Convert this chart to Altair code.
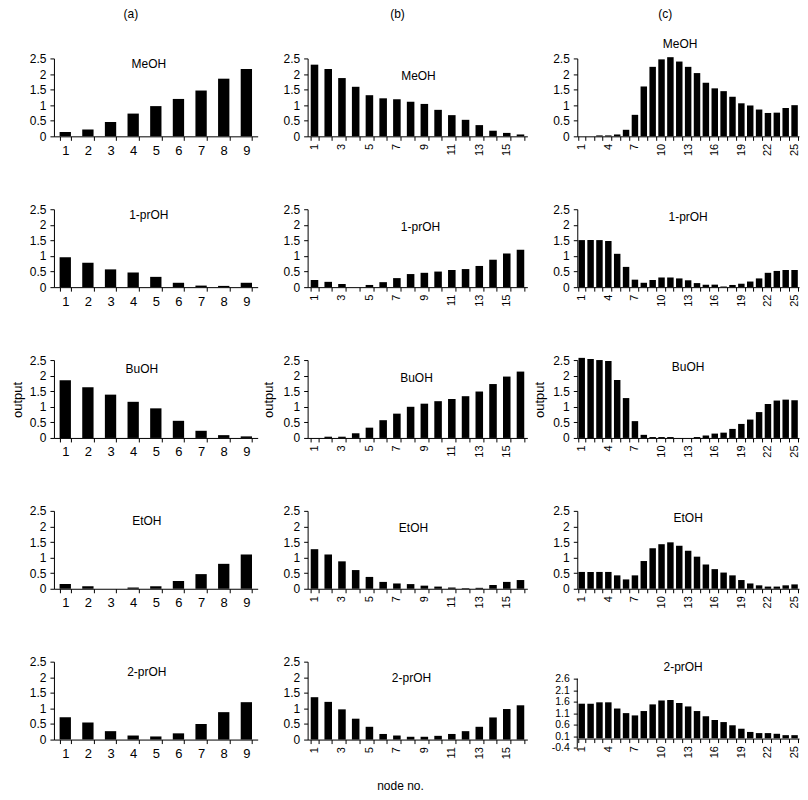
import altair as alt
import pandas as pd

FONT = "Liberation Sans"

nodes_a = list(range(1, 10))
nodes_b = list(range(1, 17))
nodes_c = list(range(1, 26))

solvents = ["MeOH", "1-prOH", "BuOH", "EtOH", "2-prOH"]
column_titles = ["(a)", "(b)", "(c)"]

# column (a): 9 nodes
a_MeOH = [0.14, 0.22, 0.46, 0.73, 0.97, 1.2, 1.47, 1.85, 2.16]
a_1prOH = [0.96, 0.78, 0.57, 0.47, 0.33, 0.14, 0.05, 0.04, 0.14]
a_BuOH = [1.85, 1.63, 1.39, 1.16, 0.95, 0.55, 0.23, 0.09, 0.05]
a_EtOH = [0.15, 0.08, 0.0, 0.04, 0.08, 0.25, 0.47, 0.8, 1.1]
a_2prOH = [0.72, 0.55, 0.27, 0.13, 0.1, 0.2, 0.5, 0.88, 1.2]

# column (b): 16 nodes
b_MeOH = [2.30, 2.16, 1.87, 1.59, 1.32, 1.22, 1.19, 1.11, 1.04, 0.85, 0.68, 0.53, 0.36, 0.18, 0.11, 0.06]
b_1prOH = [0.23, 0.17, 0.10, 0.0, 0.07, 0.16, 0.29, 0.42, 0.46, 0.5, 0.55, 0.58, 0.68, 0.88, 1.08, 1.2]
b_BuOH = [0.0, 0.04, 0.04, 0.15, 0.33, 0.57, 0.78, 1.0, 1.1, 1.18, 1.25, 1.34, 1.49, 1.73, 1.97, 2.13]
b_EtOH = [1.27, 1.1, 0.88, 0.6, 0.38, 0.22, 0.17, 0.15, 0.1, 0.07, 0.04, 0.02, 0.03, 0.12, 0.22, 0.28]
b_2prOH = [1.36, 1.21, 0.97, 0.67, 0.41, 0.18, 0.13, 0.09, 0.09, 0.12, 0.18, 0.27, 0.41, 0.71, 0.98, 1.1]

# column (c): 25 nodes
c_MeOH = [0.0, 0.0, 0.03, 0.03, 0.06, 0.21, 0.69, 1.6, 2.23, 2.47, 2.54, 2.4, 2.23, 2.03, 1.72,
          1.54, 1.45, 1.27, 1.06, 0.99, 0.86, 0.75, 0.76, 0.91, 1.0]
c_1prOH = [1.51, 1.51, 1.51, 1.48, 1.07, 0.65, 0.24, 0.14, 0.23, 0.31, 0.31, 0.28, 0.22, 0.13, 0.08,
           0.08, 0.02, 0.07, 0.11, 0.18, 0.28, 0.46, 0.52, 0.55, 0.55]
c_BuOH = [2.57, 2.53, 2.5, 2.47, 1.86, 1.28, 0.54, 0.1, 0.03, 0.03, 0.03, 0.0, 0.0, 0.03, 0.08,
          0.14, 0.17, 0.29, 0.45, 0.59, 0.83, 1.09, 1.2, 1.23, 1.21]
c_EtOH = [0.54, 0.54, 0.54, 0.54, 0.43, 0.3, 0.43, 0.89, 1.3, 1.43, 1.49, 1.38, 1.22, 1.03, 0.78,
          0.63, 0.52, 0.43, 0.28, 0.17, 0.11, 0.07, 0.07, 0.11, 0.14]
c_2prOH = [1.51, 1.51, 1.57, 1.57, 1.3, 1.1, 1.0, 1.19, 1.48, 1.65, 1.67, 1.54, 1.39, 1.19, 0.96,
           0.8, 0.71, 0.57, 0.42, 0.28, 0.23, 0.23, 0.2, 0.14, 0.14]

y_ticks = [0, 0.5, 1, 1.5, 2, 2.5]
y_ticks_c5 = [-0.4, 0.1, 0.6, 1.1, 1.6, 2.1, 2.6]

series = {
    "a": [a_MeOH, a_1prOH, a_BuOH, a_EtOH, a_2prOH],
    "b": [b_MeOH, b_1prOH, b_BuOH, b_EtOH, b_2prOH],
    "c": [c_MeOH, c_1prOH, c_BuOH, c_EtOH, c_2prOH],
}
nodes = {"a": nodes_a, "b": nodes_b, "c": nodes_c}

COLS = {
    "a": dict(width=204, pin=0.5, angle=0, lsize=13, lpad=4, expr="datum.label"),
    "b": dict(width=220, pin=0.45, angle=270, lsize=11, lpad=3,
              expr="datum.value % 2 == 1 ? datum.label : ''"),
    "c": dict(width=222, pin=0.27, angle=270, lsize=11, lpad=3,
              expr="(datum.value - 1) % 3 == 0 ? datum.label : ''"),
}

# solvent label positions (relative to panel plot area)
LABEL_POS = {
    "a": [(95, 6), (95, 6), (88, 9), (93, 10), (93, 10)],
    "b": [(111, 18), (113, 18), (109, 18), (106, 17), (104, 16)],
    "c": [(103, -14), (111, 8), (111, 7), (111, 7), (106, 5)],
}
HEADER_X = {"a": 77, "b": 90, "c": 88}
OUTPUT_X = {"a": -36, "b": -39, "c": -37}

H = 78
H5 = 86
DOM5 = [-0.4, 3.34]


def txt(s, x, y, angle=0, size=12):
    kw = dict(font=FONT, fontSize=size, color="black", align="center", baseline="middle")
    if angle:
        kw["angle"] = angle
    return alt.Chart(pd.DataFrame({"t": [s]})).mark_text(**kw).encode(
        text="t:N", x=alt.value(x), y=alt.value(y))


def panel(col, r):
    cfg = COLS[col]
    df = pd.DataFrame({"node": nodes[col], "output": series[col][r]})
    special = (col == "c" and r == 4)
    h = H5 if special else H
    if special:
        ydom = DOM5
        yticks = y_ticks_c5
        lexpr = ("datum.value < 0 ? '-' + format(-datum.value, '.1~f') : "
                 "format(datum.value, '.1~f')")
        xoff = -round(0.4 * H5 / (DOM5[1] - DOM5[0]))
        ysize = 10.5
    else:
        ydom = [0, 2.5]
        yticks = y_ticks
        lexpr = "format(datum.value, '.1~f')"
        xoff = 0
        ysize = 12
    x = alt.X(
        "node:O", sort="ascending",
        scale=alt.Scale(paddingInner=cfg["pin"], paddingOuter=cfg["pin"] / 2),
        axis=alt.Axis(title=None, labelAngle=cfg["angle"], labelExpr=cfg["expr"],
                      labelFontSize=cfg["lsize"], labelOverlap=False, tickBand="extent",
                      tickSize=4, labelPadding=cfg["lpad"], offset=xoff, labelFont=FONT,
                      domainColor="black", tickColor="black", labelColor="black"),
    )
    y = alt.Y(
        "output:Q",
        scale=alt.Scale(domain=ydom, nice=False, zero=False),
        axis=alt.Axis(title=None, values=yticks, labelExpr=lexpr, labelFontSize=ysize,
                      labelOverlap=False, labelFlush=False,
                      tickSize=4, labelPadding=4, domain=not special, labelFont=FONT,
                      domainColor="black", tickColor="black", labelColor="black",
                      grid=False),
    )
    layers = [alt.Chart(df).mark_bar(color="black").encode(x=x, y=y)]
    if special:
        # y-axis line drawn only between the first and last tick (-0.4 .. 2.6)
        top_px = H5 * (DOM5[1] - y_ticks_c5[-1]) / (DOM5[1] - DOM5[0])
        layers.append(
            alt.Chart(pd.DataFrame({"k": [0]}))
            .mark_rule(color="black", strokeWidth=1)
            .encode(x=alt.value(0), y=alt.value(top_px), y2=alt.value(H5))
        )
    lx, ly = LABEL_POS[col][r]
    layers.append(txt(solvents[r], lx, ly))
    if r == 0:
        layers.append(txt(column_titles["abc".index(col)], HEADER_X[col], -44))
    if r == 2:
        layers.append(txt("output", OUTPUT_X[col], 40, angle=270, size=13))
    if r == 4 and col == "b":
        layers.append(txt("node no.", 93, 124))
    return alt.layer(*layers).properties(width=cfg["width"], height=h)


panels = [panel(col, r) for r in range(5) for col in "abc"]

chart = alt.concat(
    *panels, columns=3, spacing=alt.RowColnumber(row=73, column=50), bounds="flush"
).properties(
    padding={"left": 4, "top": 0, "right": 0, "bottom": 0}
).configure_view(stroke=None).configure_axis(grid=False)

chart.save("out.html", embed_options={"renderer": "svg", "actions": False})
